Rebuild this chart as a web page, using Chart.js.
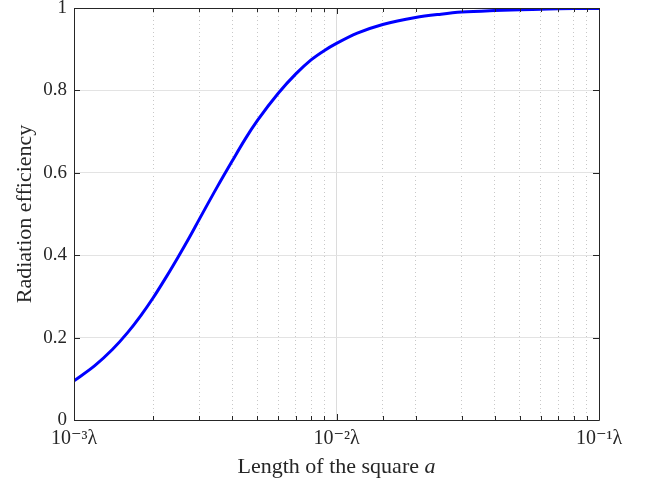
<!DOCTYPE html>
<html>
<head>
<meta charset="utf-8">
<script src="https://cdn.jsdelivr.net/npm/chart.js@4/dist/chart.umd.min.js"></script>
<style>
  html, body { margin: 0; padding: 0; background: #ffffff; }
  #wrap { width: 645px; height: 481px; }
</style>
</head>
<body>
<div id="wrap"><canvas id="c" width="645" height="481"></canvas></div>
<script>
// Square side length a (in wavelengths, λ)
const sideLength = [0.001, 0.0012, 0.0014, 0.0016, 0.0018, 0.002, 0.00225, 0.0025, 0.00275, 0.003,
  0.0035, 0.004, 0.0045, 0.005, 0.006, 0.007, 0.008, 0.009, 0.01, 0.012, 0.015, 0.02, 0.025,
  0.03, 0.04, 0.05, 0.06, 0.07, 0.08, 0.1];
// Radiation efficiency
const efficiency = [0.095, 0.132, 0.171, 0.212, 0.254, 0.296, 0.348, 0.397, 0.443, 0.487,
  0.564, 0.628, 0.683, 0.727, 0.793, 0.840, 0.874, 0.897, 0.914, 0.939, 0.960, 0.977, 0.985,
  0.990, 0.994, 0.996, 0.997, 0.998, 0.9985, 0.999];
// Tick labels
const xTickValues = [0.001, 0.01, 0.1];
const xTickLabels = ['10\u207B\u00B3\u03BB', '10\u207B\u00B2\u03BB', '10\u207B\u00B9\u03BB'];
const yTickValues = [0, 0.2, 0.4, 0.6, 0.8, 1];
const yTickLabels = ['0', '0.2', '0.4', '0.6', '0.8', '1'];

const xTitleMain = 'Length of the square ';
const xTitleVar = 'a';
const yTitle = 'Radiation efficiency';

const AXIS = '#262626';
const SERIF = '"Liberation Serif", "DejaVu Serif", serif';

function isDecade(v) {
  const l = Math.log10(v);
  return Math.abs(l - Math.round(l)) < 1e-6;
}

const boxTicks = {
  id: 'boxTicks',
  afterDraw(chart) {
    const { ctx, chartArea: a, scales } = chart;
    const xs = scales.x, ys = scales.y;
    ctx.save();
    ctx.strokeStyle = AXIS;
    ctx.lineWidth = 1;
    ctx.beginPath();
    xs.ticks.forEach(t => {
      const px = Math.round(xs.getPixelForValue(t.value)) + 0.5;
      const len = isDecade(t.value) ? 6 : 4;
      ctx.moveTo(px, a.bottom); ctx.lineTo(px, a.bottom - len);
      ctx.moveTo(px, a.top); ctx.lineTo(px, a.top + len);
    });
    yTickValues.forEach(v => {
      const py = Math.round(ys.getPixelForValue(v)) + 0.5;
      ctx.moveTo(a.left, py); ctx.lineTo(a.left + 6, py);
      ctx.moveTo(a.right, py); ctx.lineTo(a.right - 6, py);
    });
    ctx.stroke();
    ctx.beginPath();
    ctx.rect(Math.round(a.left) + 0.5, Math.round(a.top) + 0.5,
             Math.round(a.right - a.left), Math.round(a.bottom - a.top));
    ctx.stroke();

    // x-axis title with italic variable
    ctx.fillStyle = AXIS;
    ctx.textBaseline = 'alphabetic';
    const fMain = '22px ' + SERIF;
    const fVar = 'italic 22px ' + SERIF;
    ctx.font = fMain;
    const w1 = ctx.measureText(xTitleMain).width;
    ctx.font = fVar;
    const w2 = ctx.measureText(xTitleVar).width;
    const cx = (a.left + a.right) / 2;
    const x0 = cx - (w1 + w2) / 2;
    const base = xs.bottom - 8;
    ctx.textAlign = 'left';
    ctx.font = fMain;
    ctx.fillText(xTitleMain, x0, base);
    ctx.font = fVar;
    ctx.fillText(xTitleVar, x0 + w1, base);
    ctx.restore();
  }
};

new Chart(document.getElementById('c'), {
  type: 'line',
  data: {
    datasets: [{
      data: sideLength.map((a, i) => ({ x: a, y: efficiency[i] })),
      borderColor: '#0000ff',
      borderWidth: 3,
      pointRadius: 0,
      cubicInterpolationMode: 'monotone',
      fill: false
    }]
  },
  options: {
    responsive: false,
    animation: false,
    devicePixelRatio: 1,
    layout: { padding: { left: 0, right: 46, top: 8, bottom: 0 } },
    plugins: { legend: { display: false }, tooltip: { enabled: false } },
    scales: {
      x: {
        type: 'logarithmic',
        min: 0.001,
        max: 0.1,
        afterFit(s) { s.height = 61; },
        grid: {
          drawTicks: false,
          color: c => (c.tick && isDecade(c.tick.value)) ? '#dcdcdc' : '#c8c8c8',
          lineWidth: 1
        },
        border: {
          display: false,
          dash: c => (c.tick && !isDecade(c.tick.value)) ? [1, 3] : []
        },
        ticks: {
          autoSkip: false,
          maxRotation: 0,
          padding: 7,
          color: AXIS,
          font: { family: SERIF, size: 20 },
          callback: (v) => {
            const i = xTickValues.findIndex(t => Math.abs(t - v) / t < 1e-6);
            return i >= 0 ? xTickLabels[i] : '';
          }
        },
        title: { display: false }
      },
      y: {
        min: 0,
        max: 1,
        afterFit(s) { s.width = 74; s.paddingTop = 0; s.paddingBottom = 0; },
        afterBuildTicks(s) { s.ticks = yTickValues.map(v => ({ value: v })); },
        grid: { drawTicks: false, color: '#e3e3e3', lineWidth: 1 },
        border: { display: false },
        ticks: {
          padding: 7,
          color: AXIS,
          font: { family: SERIF, size: 19 },
          callback: (v) => {
            const i = yTickValues.findIndex(t => Math.abs(t - v) < 1e-9);
            return i >= 0 ? yTickLabels[i] : '';
          }
        },
        title: {
          display: true,
          text: yTitle,
          color: AXIS,
          font: { family: SERIF, size: 22 },
          padding: { top: 12, bottom: 0 }
        }
      }
    }
  },
  plugins: [boxTicks]
});
</script>
</body>
</html>
